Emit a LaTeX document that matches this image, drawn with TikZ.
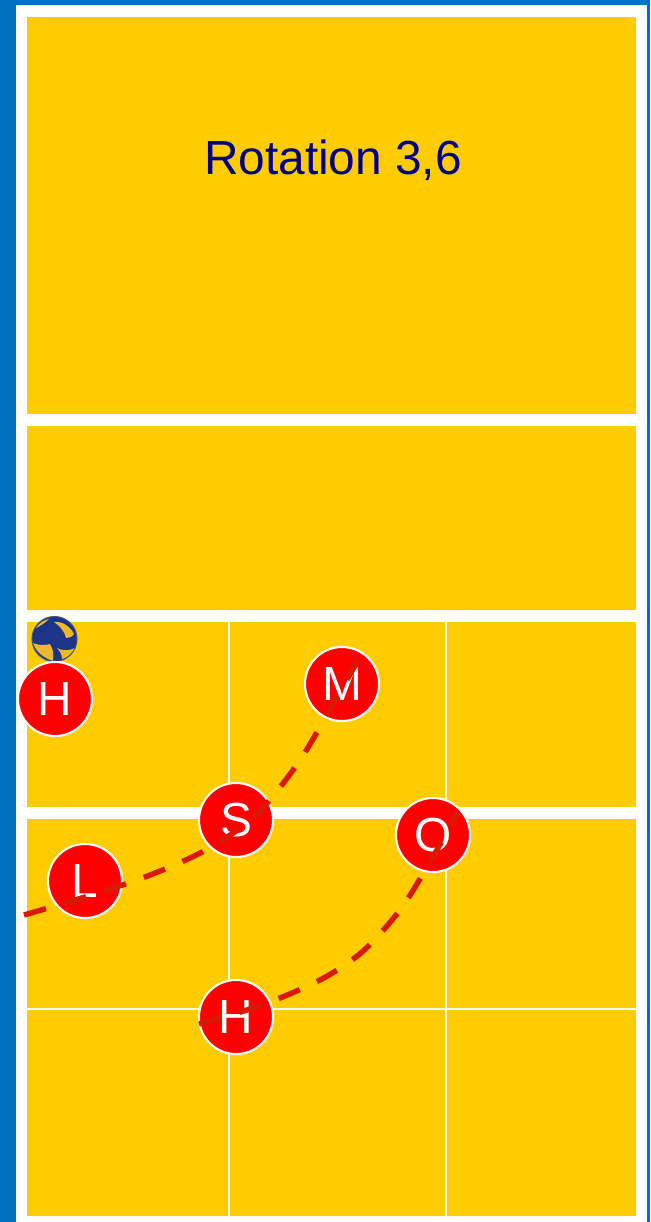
\documentclass[tikz,border=0pt]{standalone}
\usepackage{fontspec}
\setmainfont{Liberation Sans}
\usepackage{xcolor}
\usepackage{tikz}
\usetikzlibrary{positioning,calc}
\definecolor{courtblue}{HTML}{0070C0}
\definecolor{courtyellow}{HTML}{FFCC00}
\definecolor{pathred}{HTML}{D81A05}
\definecolor{ballblue}{HTML}{1E3488}
\definecolor{ballyellow}{HTML}{EDB92A}
\definecolor{titleblue}{HTML}{000080}
\begin{document}
\begin{tikzpicture}[
  x=0.01cm, y=-0.01cm,
  zone/.style={fill=courtyellow, draw=none},
  courtline/.style={draw=white, line width=0.6pt},
  player/.style={circle, draw=white, fill=red, line width=0.6pt, minimum size=0.74cm, inner sep=0pt,
    text=white, font=\fontsize{13.6}{15}\selectfont},
  runpath/.style={draw=pathred, line width=1.55pt, dash pattern=on 6.5pt off 5.4pt},
]
\useasboundingbox (0,0) rectangle (650,1222);
% background and frame
\fill[courtblue] (0,0) rectangle (650,1222);
\fill[white] (16,5) rectangle (647,1222);
% zones
\fill[zone] (27,17) rectangle (636,414);
\fill[zone] (27,426) rectangle (636,610);
\fill[zone] (27,622) rectangle (636,807);
\fill[zone] (27,819) rectangle (636,1216);
% grid
\foreach \x in {229,446}{
  \draw[courtline] (\x,622) -- (\x,807);
  \draw[courtline] (\x,819) -- (\x,1216);
}
\draw[courtline] (27,1009) -- (636,1009);
\node[text=titleblue, font=\fontsize{13.6}{15}\selectfont] (title) at (333,160) {Rotation 3,6};
% ball
\begin{scope}
  \clip (54.5,639) circle (22.5);
  \fill[ballblue] (32,616) rectangle (77,662);
  \fill[ballyellow] (54,622) .. controls (62,621) and (70,626) .. (74,634) .. controls (72,637) and (69,638) .. (66,638) .. controls (65,632) and (60,626) .. (54,622);
  \fill[ballyellow] (36,628) .. controls (39,623) and (44,620) .. (49,619) .. controls (45,623) and (40,626) .. (36,628);
  \fill[ballyellow] (33,643) .. controls (40,646) and (47,645) .. (50,644) .. controls (53,649) and (54,654) .. (53,661) .. controls (44,658) and (36,652) .. (33,643);
  \fill[ballyellow] (57,648) .. controls (62,651) and (69,651) .. (75,648) .. controls (73,654) and (67,658) .. (62,659) .. controls (62,655) and (60,651) .. (57,648);
\end{scope}
\draw[ballblue!60!gray, line width=0.3pt] (54.5,639) circle (22.5);
% players
\node[player] (oh1) at (55,699) {H};
\node[player] (mb) at (342,684) {M};
\node[player] (set) at (236,820) {S};
\node[player] (opp) at (433,835) {O};
\node[player] (lib) at (85,881) {L};
\node[player] (oh2) at (236,1017) {H};
% movement paths
\draw[runpath] plot[smooth] coordinates {(24,915) (85,897) (145,877) (204,851) (254,817) (296,766) (327,715) (358,660)};
\draw[runpath] plot[smooth] coordinates {(199,1024) (262,1005) (320,980) (362,952) (400,910) (430,862) (458,812)};
\end{tikzpicture}
\end{document}
